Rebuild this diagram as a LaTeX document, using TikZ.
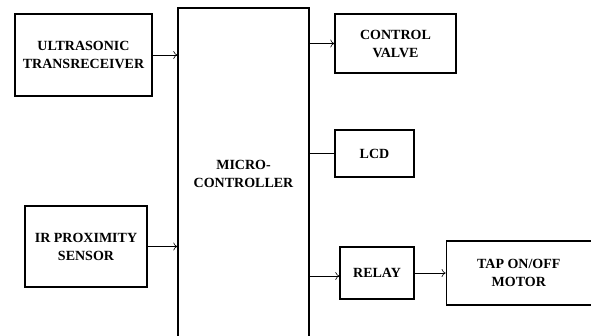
\documentclass[tikz,border=0pt]{standalone}
\usepackage{fontspec}
\setmainfont{Liberation Serif}
\usepackage{tikz}
\usetikzlibrary{arrows.meta,positioning}

\begin{document}
\begin{tikzpicture}[x=1pt,y=-1pt,font=\fontsize{14}{18}\selectfont\bfseries,
  blk/.style={draw,line width=1.3pt,align=center,inner sep=0pt},
  link/.style={-{To[length=4pt,width=8pt]},line width=0.6pt}]
  \useasboundingbox (0,0) rectangle (591,335);
  % inputs
  \node[blk,minimum width=137pt,minimum height=82pt] (ultra) at (83.5,55)
    {ULTRASONIC\\ TRANSRECEIVER};
  \node[blk,minimum width=122pt,minimum height=81pt] (ir) at (86,246.5)
    {IR PROXIMITY\\ SENSOR};
  % controller
  \node[blk,minimum width=131pt,minimum height=332pt] (mcu) at (243.5,174)
    {MICRO-\\ CONTROLLER};
  % outputs
  \node[blk,minimum width=121pt,minimum height=59pt] (valve) at (395.5,43.5)
    {CONTROL\\ VALVE};
  \node[blk,minimum width=79pt,minimum height=47pt] (lcd) at (374.5,153.5) {LCD};
  \node[blk,minimum width=74pt,minimum height=52pt] (relay) at (377,273) {RELAY};
  \node[blk,minimum width=145pt,minimum height=64pt,right=31pt of relay] (tap)
    {TAP ON/OFF\\ MOTOR};
  \draw[link] (ultra.east) -- (ultra.east -| mcu.west);
  \draw[link] (ir.east) -- (ir.east -| mcu.west);
  \draw[link] (valve.west -| mcu.east) -- (valve.west);
  \draw[line width=0.6pt] (lcd.west -| mcu.east) -- (lcd.west);
  \draw[link] ([yshift=-3pt]relay.west -| mcu.east) -- ([yshift=-3pt]relay.west);
  \draw[link] (relay.east) -- (tap.west);
\end{tikzpicture}
\end{document}
